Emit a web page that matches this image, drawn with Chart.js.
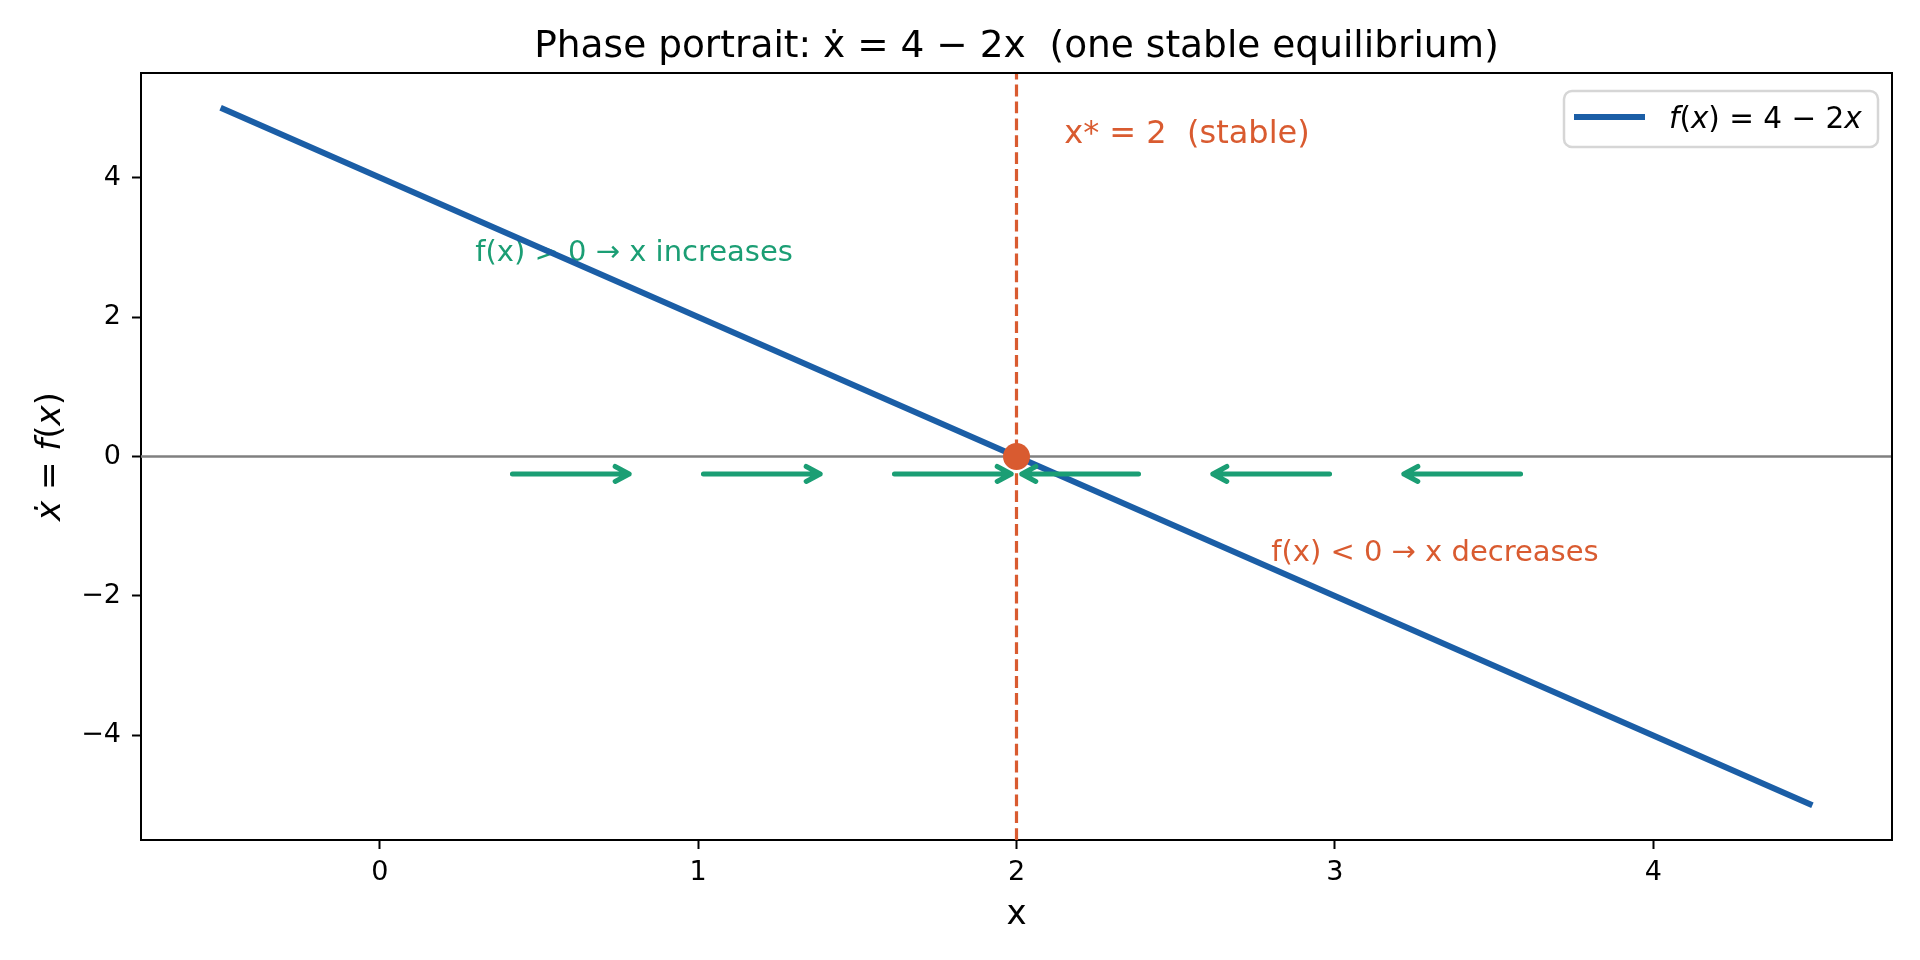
<!DOCTYPE html>
<html>
<head>
<meta charset="utf-8">
<script src="https://cdn.jsdelivr.net/npm/chart.js@4.4.1/dist/chart.umd.min.js"></script>
<style>
  html, body { margin: 0; padding: 0; background: #fff; }
  #wrap { width: 1920px; height: 960px; }
</style>
</head>
<body>
<div id="wrap"><canvas id="phaseChart" width="1920" height="960"></canvas></div>
<script>
// data
var lineX = [-0.5, 0, 1, 2, 3, 4, 4.5];
var lineY = [5, 4, 2, 0, -2, -4, -5];
var eqX = [2];
var eqY = [0];
var arrowFrom = [0.4, 1.0, 1.6, 2.4, 3.0, 3.6];
var arrowTo = [0.8, 1.4, 2.0, 2.0, 2.6, 3.2];
var arrowY = -0.25;
var xTicks = [0, 1, 2, 3, 4];
var yTicks = [-4, -2, 0, 2, 4];

var BLUE = '#1b5ea6';
var ORANGE = '#d95b30';
var GREEN = '#1b9e74';
var FONT = "'DejaVu Sans'";

function minus(v) {
    return v < 0 ? '\u2212' + Math.abs(v) : String(v);
}

// draw text made of upright / italic pieces (mathtext-like)
function drawPieces(ctx, pieces, x, y, size, align) {
    var total = 0;
    pieces.forEach(function (p) {
        ctx.font = (p[1] ? 'italic ' : '') + size + 'px ' + FONT;
        total += ctx.measureText(p[0]).width;
    });
    var cx = align === 'center' ? x - total / 2 : x;
    ctx.textAlign = 'left';
    pieces.forEach(function (p) {
        ctx.font = (p[1] ? 'italic ' : '') + size + 'px ' + FONT;
        ctx.fillText(p[0], cx, y);
        cx += ctx.measureText(p[0]).width;
    });
}

var overlay = {
    id: 'overlay',
    beforeDatasetsDraw: function (chart) {
        var ctx = chart.ctx, x = chart.scales.x, y = chart.scales.y;
        ctx.save();
        ctx.textBaseline = 'alphabetic';
        ctx.textAlign = 'left';
        ctx.font = '29px ' + FONT;
        ctx.fillStyle = GREEN;
        ctx.fillText('f(x) > 0 \u2192 x increases', x.getPixelForValue(0.3), y.getPixelForValue(2.8));
        ctx.fillStyle = ORANGE;
        ctx.fillText('f(x) < 0 \u2192 x decreases', x.getPixelForValue(2.8), y.getPixelForValue(-1.5));
        ctx.font = '32px ' + FONT;
        ctx.fillText('x* = 2  (stable)', x.getPixelForValue(2.15), y.getPixelForValue(4.5));
        ctx.restore();
    },
    afterDatasetsDraw: function (chart) {
        var ctx = chart.ctx, x = chart.scales.x, y = chart.scales.y;
        ctx.save();
        ctx.strokeStyle = GREEN;
        ctx.lineWidth = 5;
        ctx.lineCap = 'round';
        ctx.lineJoin = 'round';
        var py = y.getPixelForValue(arrowY);
        for (var i = 0; i < arrowFrom.length; i++) {
            var x0 = x.getPixelForValue(arrowFrom[i]);
            var x1 = x.getPixelForValue(arrowTo[i]);
            var d = x1 > x0 ? 1 : -1;
            var sx = x0 + d * 5.3, ex = x1 - d * 5.3;
            ctx.beginPath();
            ctx.moveTo(sx, py);
            ctx.lineTo(ex, py);
            ctx.moveTo(ex - d * 14, py - 7.5);
            ctx.lineTo(ex, py);
            ctx.lineTo(ex - d * 14, py + 7.5);
            ctx.stroke();
        }
        ctx.restore();
    },
    afterDraw: function (chart) {
        var ctx = chart.ctx, a = chart.chartArea;
        ctx.save();
        // top and right spines
        ctx.strokeStyle = '#000';
        ctx.lineWidth = 2;
        ctx.beginPath();
        ctx.moveTo(a.left - 1, a.top);
        ctx.lineTo(a.right, a.top);
        ctx.lineTo(a.right, a.bottom + 1);
        ctx.stroke();

        // title
        ctx.fillStyle = '#000';
        ctx.textBaseline = 'alphabetic';
        ctx.textAlign = 'center';
        ctx.font = '37.5px ' + FONT;
        ctx.fillText('Phase portrait: \u1E8B = 4 \u2212 2x  (one stable equilibrium)', (a.left + a.right) / 2, 57);

        // x label
        ctx.font = '34px ' + FONT;
        ctx.fillText('x', (a.left + a.right) / 2, 924);

        // y label (rotated)
        ctx.save();
        ctx.translate(60, (a.top + a.bottom) / 2);
        ctx.rotate(-Math.PI / 2);
        drawPieces(ctx, [['\u1E8B', 1], [' = ', 0], ['f', 1], ['(', 0], ['x', 1], [')', 0]], 0, 0, 34, 'center');
        ctx.restore();

        // legend
        var lx = 1564, ly = 91, lw = 314, lh = 56, r = 8;
        ctx.beginPath();
        ctx.moveTo(lx + r, ly);
        ctx.arcTo(lx + lw, ly, lx + lw, ly + lh, r);
        ctx.arcTo(lx + lw, ly + lh, lx, ly + lh, r);
        ctx.arcTo(lx, ly + lh, lx, ly, r);
        ctx.arcTo(lx, ly, lx + lw, ly, r);
        ctx.closePath();
        ctx.fillStyle = 'rgba(255,255,255,0.8)';
        ctx.fill();
        ctx.strokeStyle = '#d6d6d6';
        ctx.lineWidth = 2.5;
        ctx.stroke();
        ctx.strokeStyle = BLUE;
        ctx.lineWidth = 6;
        ctx.beginPath();
        ctx.moveTo(1574, 117);
        ctx.lineTo(1645, 117);
        ctx.stroke();
        ctx.fillStyle = '#000';
        drawPieces(ctx, [['f', 1], ['(', 0], ['x', 1], [') = 4 \u2212 2', 0], ['x', 1]], 1669, 128, 29.5, 'left');
        ctx.restore();
    }
};

var ctx = document.getElementById('phaseChart').getContext('2d');

var chart = new Chart(ctx, {
    type: 'scatter',
    data: {
        datasets: [
            {
                label: 'x* = 2',
                data: eqX.map(function (v, i) { return { x: v, y: eqY[i] }; }),
                backgroundColor: ORANGE,
                borderColor: ORANGE,
                pointRadius: 13.5,
                pointBorderWidth: 0,
                showLine: false
            },
            {
                label: 'f(x) = 4 - 2x',
                data: lineX.map(function (v, i) { return { x: v, y: lineY[i] }; }),
                borderColor: BLUE,
                borderWidth: 6,
                pointRadius: 0,
                showLine: true,
                tension: 0
            },
            {
                label: 'equilibrium line',
                data: [{ x: eqX[0], y: -5.5 }, { x: eqX[0], y: 5.5 }],
                borderColor: ORANGE,
                borderWidth: 3.2,
                borderDash: [11.8, 5.1],
                pointRadius: 0,
                showLine: true
            },
            {
                label: 'zero line',
                data: [{ x: -0.75, y: 0 }, { x: 4.75, y: 0 }],
                borderColor: '#808080',
                borderWidth: 2.7,
                pointRadius: 0,
                showLine: true
            }
        ]
    },
    options: {
        responsive: false,
        animation: false,
        devicePixelRatio: 1,
        layout: { padding: { top: 73, right: 28, left: 0, bottom: 0 } },
        plugins: {
            legend: { display: false },
            title: { display: false },
            tooltip: { enabled: false }
        },
        scales: {
            x: {
                type: 'linear',
                min: -0.75,
                max: 4.75,
                afterBuildTicks: function (s) { s.ticks = xTicks.map(function (v) { return { value: v }; }); },
                afterFit: function (s) { s.height = 120; },
                ticks: {
                    color: '#000',
                    font: { family: 'DejaVu Sans', size: 27 },
                    padding: 8,
                    maxRotation: 0,
                    callback: function (v) { return minus(v); }
                },
                grid: { drawOnChartArea: false, drawTicks: true, tickLength: 9, tickWidth: 2, tickColor: '#000' },
                border: { display: true, color: '#000', width: 2 }
            },
            y: {
                type: 'linear',
                min: -5.5,
                max: 5.5,
                afterBuildTicks: function (s) { s.ticks = yTicks.map(function (v) { return { value: v }; }); },
                afterFit: function (s) { s.width = 141; },
                ticks: {
                    color: '#000',
                    font: { family: 'DejaVu Sans', size: 27 },
                    padding: 11,
                    callback: function (v) { return minus(v); }
                },
                grid: { drawOnChartArea: false, drawTicks: true, tickLength: 9, tickWidth: 2, tickColor: '#000' },
                border: { display: true, color: '#000', width: 2 }
            }
        }
    },
    plugins: [overlay]
});
</script>
</body>
</html>
